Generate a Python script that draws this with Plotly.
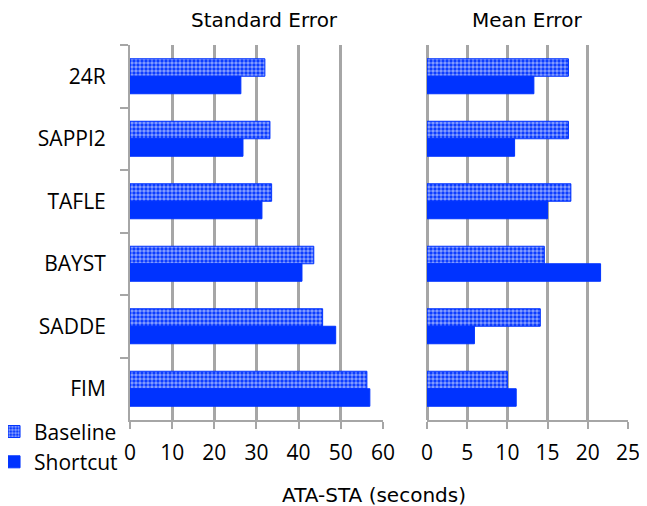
import plotly.graph_objects as go

categories = ["24R", "SAPPI2", "TAFLE", "BAYST", "SADDE", "FIM"]
std_baseline = [32.0, 33.2, 33.6, 43.6, 45.7, 56.2]
std_shortcut = [26.3, 26.8, 31.3, 40.8, 48.8, 56.9]
mean_baseline = [17.6, 17.6, 17.9, 14.6, 14.1, 10.0]
mean_shortcut = [13.3, 10.9, 15.0, 21.6, 5.9, 11.1]

BLUE = "#0033ff"
GRID = "#a6a6a6"
TICK_FONT = dict(family="Open Sans, sans-serif", size=21, color="black")
TITLE_FONT = dict(family="DejaVu Sans, sans-serif", size=20, color="black")

fig = go.Figure()


def add_pair(baseline, shortcut, xaxis, yaxis, show):
    fig.add_trace(go.Bar(
        x=baseline, y=categories, orientation="h", name="Baseline",
        xaxis=xaxis, yaxis=yaxis,
        marker=dict(color=BLUE, line=dict(color=BLUE, width=1),
                    pattern=dict(shape=".", fgcolor="white", bgcolor=BLUE,
                                 size=4, solidity=0.6, fillmode="overlay")),
        showlegend=show, legendgroup="b",
    ))
    fig.add_trace(go.Bar(
        x=shortcut, y=categories, orientation="h", name="Shortcut",
        xaxis=xaxis, yaxis=yaxis,
        marker=dict(color=BLUE, line=dict(color=BLUE, width=1)),
        showlegend=show, legendgroup="s",
    ))


add_pair(std_baseline, std_shortcut, "x", "y", True)
add_pair(mean_baseline, mean_shortcut, "x2", "y2", False)

# the page body adds an 8px offset and clips at its width
PW = 498
xaxis_common = dict(showline=True, linecolor=GRID, linewidth=2,
                    ticks="outside", tickcolor=GRID, ticklen=7, tickwidth=2,
                    showgrid=True, gridcolor=GRID, gridwidth=3,
                    tickfont=TICK_FONT, ticklabelstandoff=6, ticklabeloverflow="allow")

fig.update_layout(
    width=631, height=498,
    margin=dict(l=122, r=11, t=37, b=86, autoexpand=False),
    plot_bgcolor="white", paper_bgcolor="white",
    barmode="group", bargap=0.44, bargroupgap=0,
    font=TICK_FONT,
    xaxis=dict(domain=[0, 253 / PW], range=[0, 60.02], dtick=10, zeroline=False, **xaxis_common),
    xaxis2=dict(domain=[297 / PW, 1], range=[0, 25.01], dtick=5, zeroline=True,
                zerolinecolor=GRID, zerolinewidth=3, anchor="y2", **xaxis_common),
    yaxis=dict(autorange="reversed", showline=True, linecolor=GRID, linewidth=2,
               ticks="outside", tickson="boundaries", tickcolor=GRID, ticklen=8, tickwidth=2,
               showgrid=False, tickfont=TICK_FONT, ticklabelstandoff=18),
    yaxis2=dict(anchor="x2", autorange="reversed", showline=False, showticklabels=False,
                showgrid=False, ticks=""),
    legend=dict(x=-0.273, y=0.023, xanchor="left", yanchor="top",
                font=TICK_FONT, traceorder="normal", tracegroupgap=0,
                itemwidth=30, bgcolor="rgba(0,0,0,0)"),
    annotations=[
        dict(text="Standard Error", x=(264 - 130) / PW, y=1.067, xref="paper", yref="paper",
             showarrow=False, font=TITLE_FONT, xanchor="center", yanchor="middle"),
        dict(text="Mean Error", x=(527 - 130) / PW, y=1.067, xref="paper", yref="paper",
             showarrow=False, font=TITLE_FONT, xanchor="center", yanchor="middle"),
        dict(text="ATA-STA (seconds)", x=(374 - 130) / PW, y=-0.2, xref="paper", yref="paper",
             showarrow=False, font=TITLE_FONT, xanchor="center", yanchor="middle"),
    ],
)

fig.write_html("out.html")
